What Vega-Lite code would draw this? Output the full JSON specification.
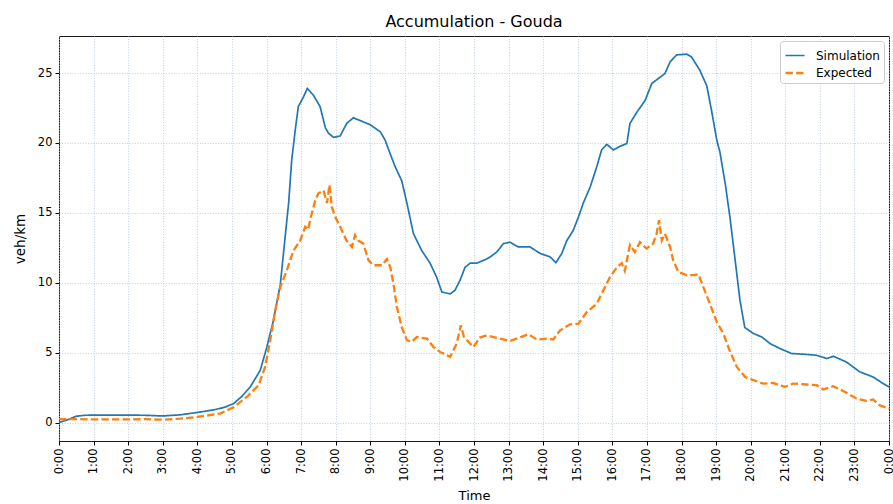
{
  "$schema": "https://vega.github.io/schema/vega-lite/v6.json",
  "width": 830,
  "height": 405,
  "autosize": {"type": "none"},
  "padding": {"left": 59, "top": 36, "right": 4, "bottom": 63},
  "background": "white",
  "title": {"text": "Accumulation - Gouda", "fontSize": 16, "font": "DejaVu Sans", "fontWeight": "normal", "color": "#000", "offset": 6},
  "data": {"values": [
    {"t":0,"v":0.0,"s":"Simulation"},{"t":0.25,"v":0.2,"s":"Simulation"},{"t":0.5,"v":0.45,"s":"Simulation"},{"t":0.75,"v":0.52,"s":"Simulation"},{"t":1.0,"v":0.53,"s":"Simulation"},{"t":1.5,"v":0.53,"s":"Simulation"},{"t":2.0,"v":0.53,"s":"Simulation"},{"t":2.5,"v":0.52,"s":"Simulation"},{"t":3.0,"v":0.47,"s":"Simulation"},{"t":3.5,"v":0.55,"s":"Simulation"},{"t":4.0,"v":0.72,"s":"Simulation"},{"t":4.5,"v":0.92,"s":"Simulation"},{"t":4.8,"v":1.1,"s":"Simulation"},{"t":5.05,"v":1.36,"s":"Simulation"},{"t":5.3,"v":1.9,"s":"Simulation"},{"t":5.53,"v":2.55,"s":"Simulation"},{"t":5.82,"v":3.74,"s":"Simulation"},{"t":6.01,"v":5.4,"s":"Simulation"},{"t":6.2,"v":7.3,"s":"Simulation"},{"t":6.4,"v":9.9,"s":"Simulation"},{"t":6.54,"v":13.3,"s":"Simulation"},{"t":6.64,"v":15.7,"s":"Simulation"},{"t":6.73,"v":18.8,"s":"Simulation"},{"t":6.83,"v":20.9,"s":"Simulation"},{"t":6.92,"v":22.6,"s":"Simulation"},{"t":7.07,"v":23.3,"s":"Simulation"},{"t":7.18,"v":23.9,"s":"Simulation"},{"t":7.36,"v":23.4,"s":"Simulation"},{"t":7.55,"v":22.6,"s":"Simulation"},{"t":7.7,"v":21.1,"s":"Simulation"},{"t":7.79,"v":20.7,"s":"Simulation"},{"t":7.94,"v":20.4,"s":"Simulation"},{"t":8.13,"v":20.5,"s":"Simulation"},{"t":8.32,"v":21.4,"s":"Simulation"},{"t":8.51,"v":21.8,"s":"Simulation"},{"t":8.71,"v":21.6,"s":"Simulation"},{"t":9.0,"v":21.3,"s":"Simulation"},{"t":9.29,"v":20.8,"s":"Simulation"},{"t":9.43,"v":20.2,"s":"Simulation"},{"t":9.58,"v":19.2,"s":"Simulation"},{"t":9.72,"v":18.3,"s":"Simulation"},{"t":9.91,"v":17.3,"s":"Simulation"},{"t":10.06,"v":15.7,"s":"Simulation"},{"t":10.25,"v":13.5,"s":"Simulation"},{"t":10.49,"v":12.3,"s":"Simulation"},{"t":10.73,"v":11.4,"s":"Simulation"},{"t":10.92,"v":10.4,"s":"Simulation"},{"t":11.07,"v":9.34,"s":"Simulation"},{"t":11.31,"v":9.2,"s":"Simulation"},{"t":11.45,"v":9.46,"s":"Simulation"},{"t":11.6,"v":10.2,"s":"Simulation"},{"t":11.74,"v":11.1,"s":"Simulation"},{"t":11.89,"v":11.4,"s":"Simulation"},{"t":12.08,"v":11.4,"s":"Simulation"},{"t":12.37,"v":11.7,"s":"Simulation"},{"t":12.47,"v":11.85,"s":"Simulation"},{"t":12.66,"v":12.2,"s":"Simulation"},{"t":12.85,"v":12.8,"s":"Simulation"},{"t":13.04,"v":12.9,"s":"Simulation"},{"t":13.28,"v":12.56,"s":"Simulation"},{"t":13.62,"v":12.56,"s":"Simulation"},{"t":13.91,"v":12.1,"s":"Simulation"},{"t":14.2,"v":11.85,"s":"Simulation"},{"t":14.37,"v":11.44,"s":"Simulation"},{"t":14.54,"v":12.1,"s":"Simulation"},{"t":14.68,"v":13.0,"s":"Simulation"},{"t":14.87,"v":13.75,"s":"Simulation"},{"t":15.02,"v":14.7,"s":"Simulation"},{"t":15.16,"v":15.7,"s":"Simulation"},{"t":15.36,"v":16.85,"s":"Simulation"},{"t":15.55,"v":18.3,"s":"Simulation"},{"t":15.69,"v":19.5,"s":"Simulation"},{"t":15.84,"v":19.9,"s":"Simulation"},{"t":16.03,"v":19.5,"s":"Simulation"},{"t":16.22,"v":19.76,"s":"Simulation"},{"t":16.42,"v":19.96,"s":"Simulation"},{"t":16.51,"v":21.4,"s":"Simulation"},{"t":16.71,"v":22.2,"s":"Simulation"},{"t":16.95,"v":23.05,"s":"Simulation"},{"t":17.14,"v":24.25,"s":"Simulation"},{"t":17.38,"v":24.7,"s":"Simulation"},{"t":17.52,"v":24.96,"s":"Simulation"},{"t":17.67,"v":25.8,"s":"Simulation"},{"t":17.86,"v":26.3,"s":"Simulation"},{"t":18.15,"v":26.35,"s":"Simulation"},{"t":18.29,"v":26.15,"s":"Simulation"},{"t":18.53,"v":25.2,"s":"Simulation"},{"t":18.73,"v":24.1,"s":"Simulation"},{"t":18.87,"v":22.3,"s":"Simulation"},{"t":19.02,"v":20.2,"s":"Simulation"},{"t":19.11,"v":19.36,"s":"Simulation"},{"t":19.27,"v":17.0,"s":"Simulation"},{"t":19.4,"v":14.7,"s":"Simulation"},{"t":19.54,"v":11.85,"s":"Simulation"},{"t":19.69,"v":8.75,"s":"Simulation"},{"t":19.83,"v":6.8,"s":"Simulation"},{"t":20.08,"v":6.37,"s":"Simulation"},{"t":20.32,"v":6.12,"s":"Simulation"},{"t":20.56,"v":5.65,"s":"Simulation"},{"t":20.85,"v":5.29,"s":"Simulation"},{"t":21.18,"v":4.94,"s":"Simulation"},{"t":21.52,"v":4.89,"s":"Simulation"},{"t":21.91,"v":4.81,"s":"Simulation"},{"t":22.2,"v":4.58,"s":"Simulation"},{"t":22.39,"v":4.74,"s":"Simulation"},{"t":22.77,"v":4.33,"s":"Simulation"},{"t":23.16,"v":3.62,"s":"Simulation"},{"t":23.54,"v":3.26,"s":"Simulation"},{"t":23.83,"v":2.79,"s":"Simulation"},{"t":24.0,"v":2.55,"s":"Simulation"},
    {"t":0,"v":0.25,"s":"Expected"},{"t":0.5,"v":0.25,"s":"Expected"},{"t":1.0,"v":0.22,"s":"Expected"},{"t":1.5,"v":0.22,"s":"Expected"},{"t":2.0,"v":0.22,"s":"Expected"},{"t":2.5,"v":0.24,"s":"Expected"},{"t":3.0,"v":0.2,"s":"Expected"},{"t":3.5,"v":0.28,"s":"Expected"},{"t":4.0,"v":0.4,"s":"Expected"},{"t":4.66,"v":0.64,"s":"Expected"},{"t":5.05,"v":1.1,"s":"Expected"},{"t":5.43,"v":1.83,"s":"Expected"},{"t":5.77,"v":2.67,"s":"Expected"},{"t":5.96,"v":3.98,"s":"Expected"},{"t":6.11,"v":5.9,"s":"Expected"},{"t":6.25,"v":8.0,"s":"Expected"},{"t":6.4,"v":9.7,"s":"Expected"},{"t":6.59,"v":10.9,"s":"Expected"},{"t":6.78,"v":12.3,"s":"Expected"},{"t":6.97,"v":13.0,"s":"Expected"},{"t":7.12,"v":14.0,"s":"Expected"},{"t":7.21,"v":13.8,"s":"Expected"},{"t":7.26,"v":14.5,"s":"Expected"},{"t":7.31,"v":14.95,"s":"Expected"},{"t":7.41,"v":15.9,"s":"Expected"},{"t":7.5,"v":16.4,"s":"Expected"},{"t":7.65,"v":16.6,"s":"Expected"},{"t":7.75,"v":15.7,"s":"Expected"},{"t":7.82,"v":17.0,"s":"Expected"},{"t":7.89,"v":15.4,"s":"Expected"},{"t":7.99,"v":14.7,"s":"Expected"},{"t":8.13,"v":14.0,"s":"Expected"},{"t":8.32,"v":13.0,"s":"Expected"},{"t":8.47,"v":12.56,"s":"Expected"},{"t":8.56,"v":13.4,"s":"Expected"},{"t":8.66,"v":13.0,"s":"Expected"},{"t":8.8,"v":12.8,"s":"Expected"},{"t":8.95,"v":11.6,"s":"Expected"},{"t":9.09,"v":11.25,"s":"Expected"},{"t":9.34,"v":11.25,"s":"Expected"},{"t":9.48,"v":11.7,"s":"Expected"},{"t":9.58,"v":11.1,"s":"Expected"},{"t":9.67,"v":9.94,"s":"Expected"},{"t":9.77,"v":8.27,"s":"Expected"},{"t":9.91,"v":6.84,"s":"Expected"},{"t":10.06,"v":5.89,"s":"Expected"},{"t":10.2,"v":5.77,"s":"Expected"},{"t":10.35,"v":6.12,"s":"Expected"},{"t":10.64,"v":6.0,"s":"Expected"},{"t":10.83,"v":5.4,"s":"Expected"},{"t":11.02,"v":5.05,"s":"Expected"},{"t":11.31,"v":4.7,"s":"Expected"},{"t":11.5,"v":5.65,"s":"Expected"},{"t":11.62,"v":6.96,"s":"Expected"},{"t":11.71,"v":6.12,"s":"Expected"},{"t":11.98,"v":5.4,"s":"Expected"},{"t":12.17,"v":6.08,"s":"Expected"},{"t":12.37,"v":6.24,"s":"Expected"},{"t":12.75,"v":6.0,"s":"Expected"},{"t":13.04,"v":5.84,"s":"Expected"},{"t":13.33,"v":6.08,"s":"Expected"},{"t":13.57,"v":6.32,"s":"Expected"},{"t":13.82,"v":5.94,"s":"Expected"},{"t":14.1,"v":6.0,"s":"Expected"},{"t":14.29,"v":5.94,"s":"Expected"},{"t":14.49,"v":6.6,"s":"Expected"},{"t":14.78,"v":7.03,"s":"Expected"},{"t":15.02,"v":7.08,"s":"Expected"},{"t":15.26,"v":7.9,"s":"Expected"},{"t":15.55,"v":8.5,"s":"Expected"},{"t":15.74,"v":9.46,"s":"Expected"},{"t":15.93,"v":10.4,"s":"Expected"},{"t":16.13,"v":11.1,"s":"Expected"},{"t":16.27,"v":11.4,"s":"Expected"},{"t":16.36,"v":10.85,"s":"Expected"},{"t":16.51,"v":12.7,"s":"Expected"},{"t":16.65,"v":12.2,"s":"Expected"},{"t":16.8,"v":12.9,"s":"Expected"},{"t":16.99,"v":12.45,"s":"Expected"},{"t":17.18,"v":12.8,"s":"Expected"},{"t":17.28,"v":13.5,"s":"Expected"},{"t":17.35,"v":14.47,"s":"Expected"},{"t":17.43,"v":13.04,"s":"Expected"},{"t":17.52,"v":13.5,"s":"Expected"},{"t":17.67,"v":12.56,"s":"Expected"},{"t":17.76,"v":11.6,"s":"Expected"},{"t":17.91,"v":10.77,"s":"Expected"},{"t":18.15,"v":10.54,"s":"Expected"},{"t":18.34,"v":10.54,"s":"Expected"},{"t":18.49,"v":10.6,"s":"Expected"},{"t":18.63,"v":9.7,"s":"Expected"},{"t":18.82,"v":8.5,"s":"Expected"},{"t":19.02,"v":7.2,"s":"Expected"},{"t":19.21,"v":6.37,"s":"Expected"},{"t":19.4,"v":5.1,"s":"Expected"},{"t":19.6,"v":3.98,"s":"Expected"},{"t":19.84,"v":3.26,"s":"Expected"},{"t":20.08,"v":3.03,"s":"Expected"},{"t":20.36,"v":2.79,"s":"Expected"},{"t":20.65,"v":2.83,"s":"Expected"},{"t":20.99,"v":2.55,"s":"Expected"},{"t":21.23,"v":2.79,"s":"Expected"},{"t":21.62,"v":2.72,"s":"Expected"},{"t":21.91,"v":2.67,"s":"Expected"},{"t":22.1,"v":2.36,"s":"Expected"},{"t":22.39,"v":2.6,"s":"Expected"},{"t":22.73,"v":2.19,"s":"Expected"},{"t":23.06,"v":1.72,"s":"Expected"},{"t":23.35,"v":1.55,"s":"Expected"},{"t":23.54,"v":1.65,"s":"Expected"},{"t":23.73,"v":1.24,"s":"Expected"},{"t":24.0,"v":1.0,"s":"Expected"}
  ]},
  "mark": {"type": "line", "interpolate": "linear", "strokeCap": "butt"},
  "encoding": {
    "x": {"field": "t", "type": "quantitative",
      "scale": {"domain": [0, 24], "nice": false, "zero": false},
      "axis": {"title": "Time", "values": [0,1,2,3,4,5,6,7,8,9,10,11,12,13,14,15,16,17,18,19,20,21,22,23,24],
        "labelExpr": "(datum.value % 24) + ':00'", "labelAngle": -90, "labelAlign": "right", "labelBaseline": "middle", "titlePadding": 8}},
    "y": {"field": "v", "type": "quantitative",
      "scale": {"domain": [-1.32, 27.65], "nice": false, "zero": false},
      "axis": {"title": "veh/km", "values": [0,5,10,15,20,25], "titlePadding": 10, "titleFontSize": 13.5}},
    "color": {"field": "s", "type": "nominal",
      "scale": {"domain": ["Simulation", "Expected"], "range": ["#1f77b4", "#ff7f0e"]},
      "legend": {"title": null}},
    "strokeDash": {"field": "s", "type": "nominal",
      "scale": {"domain": ["Simulation", "Expected"], "range": [[1, 0], [7.4, 3.2]]},
      "legend": {"title": null}},
    "strokeWidth": {"field": "s", "type": "nominal",
      "scale": {"domain": ["Simulation", "Expected"], "range": [1.7, 2.3]},
      "legend": null}
  },
  "config": {
    "font": "DejaVu Sans",
    "view": {"stroke": "#1a1a1a", "strokeWidth": 1},
    "axis": {
      "domain": false, "grid": true, "gridColor": "#b0c4de", "gridDash": [1, 1.6], "gridWidth": 0.8, "gridOpacity": 1,
      "tickColor": "#000", "tickSize": 4, "tickWidth": 1,
      "labelFont": "DejaVu Sans", "labelFontSize": 11.5, "labelColor": "#000", "labelPadding": 3,
      "titleFont": "DejaVu Sans", "titleFontSize": 13, "titleFontWeight": "normal", "titleColor": "#000"
    },
    "legend": {
      "orient": "top-right", "offset": 5, "fillColor": "white", "strokeColor": "#cccccc", "cornerRadius": 3,
      "padding": 4, "symbolType": "stroke", "symbolSize": 361, "symbolStrokeWidth": 2,
      "labelFont": "DejaVu Sans", "labelFontSize": 12, "labelColor": "#000", "labelOffset": 10, "rowPadding": 0
    }
  }
}
